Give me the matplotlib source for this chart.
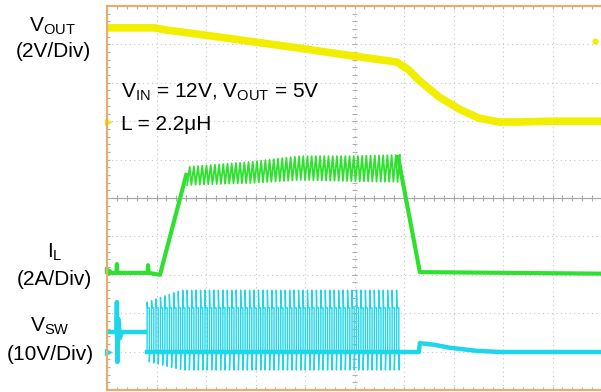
import numpy as np
import matplotlib.pyplot as plt

plt.rcParams['font.family'] = ['Liberation Sans', 'DejaVu Sans']
plt.rcParams['mathtext.fontset'] = 'custom'
plt.rcParams['mathtext.rm'] = 'Liberation Sans'
plt.rcParams['mathtext.it'] = 'Liberation Sans:italic'

# scope screen in divisions: time 0..10 div, amplitude 0..10 div
# V_OUT (yellow)
vout_t = [0.0, 0.97, 1.17, 1.88, 2.89, 3.90, 4.91, 5.86, 6.10, 6.30, 6.71, 7.11, 7.51, 7.92, 8.34, 8.95, 9.98]
vout_v = [9.43, 9.43, 9.38, 9.26, 9.08, 8.90, 8.71, 8.54, 8.33, 8.07, 7.63, 7.32, 7.08, 6.98, 6.98, 7.00, 7.00]

# I_L (green): baseline / ramps, plus ripple envelope while switching
il_t = [0.0, 0.19, 0.20, 0.21, 0.82, 0.83, 0.84, 1.07, 1.60]
il_v = [3.05, 3.05, 3.28, 3.05, 3.05, 3.25, 3.05, 3.00, 5.60]
il_env_t = [1.62, 2.89, 3.90, 4.91, 5.88]
il_env_top = [5.81, 5.94, 6.09, 6.09, 6.12]
il_env_bot = [5.34, 5.39, 5.47, 5.44, 5.42]
il_off_t = [5.88, 6.32, 9.98]
il_off_v = [6.07, 3.07, 3.03]
il_period = 0.085

# V_SW (cyan)
sw_pre_t = [0.0, 0.19, 0.20, 0.21, 0.23, 0.26, 0.30, 0.81]
sw_pre_v = [1.51, 1.51, 2.29, 0.73, 1.85, 1.35, 1.51, 1.51]
sw_start, sw_stop, sw_period = 0.81, 5.88, 0.09
sw_low, sw_high = 0.99, 2.14
sw_env_t = [0.81, 1.5, 5.88]
sw_env_top = [2.29, 2.60, 2.60]
sw_env_bot = [0.73, 0.52, 0.52]
sw_post_t = [5.88, 6.30, 6.32, 6.60, 6.93, 7.47, 7.94, 9.98]
sw_post_v = [0.99, 0.99, 1.22, 1.18, 1.10, 1.02, 0.99, 0.99]

YEL = '#f2ee00'
GRN = '#30e030'
CYN = '#1ed6ea'
BORDER = '#dfb070'

W, H = 601, 392
fig = plt.figure(figsize=(W / 100, H / 100), dpi=100)
ax = fig.add_axes([107 / W, 2 / H, 494 / W, 384 / H])
xmax = 494 / 49.5
ax.set_xlim(0, xmax)
ax.set_ylim(0, 10)
ax.set_xticks([])
ax.set_yticks([])
for s in ['left', 'top', 'bottom']:
    ax.spines[s].set_color(BORDER)
    ax.spines[s].set_linewidth(1.6)
ax.spines['right'].set_visible(False)

# graticule
for g in range(1, 10):
    if g != 5:
        ax.axvline(g, color='#c8c8c8', lw=0.8, ls=(0, (1, 3)), zorder=0)
        ax.axhline(g, color='#c8c8c8', lw=0.8, ls=(0, (1, 3)), zorder=0)
ax.axhline(5, color='#a8a8a8', lw=0.9, zorder=0)
ax.axvline(5, color='#c8c8c8', lw=0.8, ls=(0, (1, 3)), zorder=0)
mx = np.arange(0.2, xmax, 0.2)
my = np.arange(0.2, 10, 0.2)
ax.vlines(mx, 5 - 0.07, 5 + 0.07, color='#a8a8a8', lw=0.8, zorder=0)
ax.vlines(mx, 10 - 0.09, 10, color='#b0b0b0', lw=0.8, zorder=0)
ax.vlines(mx, 0, 0.09, color='#b0b0b0', lw=0.8, zorder=0)
ax.hlines(my, 0, 0.07, color='#b0b0b0', lw=0.8, zorder=0)
ax.hlines(my, 5 - 0.06, 5 + 0.06, color='#b0b0b0', lw=0.8, zorder=0)

# V_SW trace
ax.plot(sw_pre_t, sw_pre_v, color=CYN, lw=3.2, solid_capstyle='butt')
px, py = [], []
for t in np.arange(sw_start, sw_stop, sw_period):
    top = np.interp(t, sw_env_t, sw_env_top)
    bot = np.interp(t, sw_env_t, sw_env_bot)
    px += [t, t, t + 0.01, t + 0.045, t + 0.045, t + 0.055]
    py += [sw_low, top, sw_high, sw_high, bot, sw_low]
ax.plot(px, py, color=CYN, lw=1.0)
ax.plot([sw_start, sw_stop], [sw_low, sw_low], color=CYN, lw=3.2)
ax.plot(sw_post_t, sw_post_v, color=CYN, lw=3.2)

# I_L trace
ax.plot(il_t, il_v, color=GRN, lw=3.0)
rx, ry = [], []
for t in np.arange(il_env_t[0], il_env_t[-1], il_period):
    rx += [t, t + 0.05]
    ry += [np.interp(t, il_env_t, il_env_bot), np.interp(t + 0.05, il_env_t, il_env_top)]
ax.plot(rx, ry, color=GRN, lw=1.3)
ax.plot(il_off_t, il_off_v, color=GRN, lw=3.0)

# V_OUT trace
ax.plot(vout_t, vout_v, color=YEL, lw=5.5, solid_capstyle='butt', solid_joinstyle='round')

# channel markers
ax.plot([0.03], [6.98], marker='>', color=YEL, ms=5, clip_on=False)
ax.plot([0.03], [3.13], marker='>', color=GRN, ms=5, clip_on=False)
ax.plot([0.03], [0.99], marker='>', color=CYN, ms=5, clip_on=False)
ax.plot([9.86], [9.09], marker='o', color=YEL, ms=3.5, clip_on=False)


def ftext(x, y, s, ha='center'):
    fig.text(x / W, 1 - y / H, s, ha=ha, va='baseline', fontsize=15)


ftext(52, 32, r'V$_{\mathrm{OUT}}$')
ftext(53, 57, '(2V/Div)')
ftext(55, 258, r'I$_{\mathrm{L}}$')
ftext(54, 285, '(2A/Div)')
ftext(50, 332, r'V$_{\mathrm{SW}}$')
ftext(50, 360, '(10V/Div)')
ftext(121, 98, r'V$_{\mathrm{IN}}$ = 12V, V$_{\mathrm{OUT}}$ = 5V', ha='left')
ftext(121, 130, 'L = 2.2\u03bcH', ha='left')

fig.savefig('out.png', dpi=100)
